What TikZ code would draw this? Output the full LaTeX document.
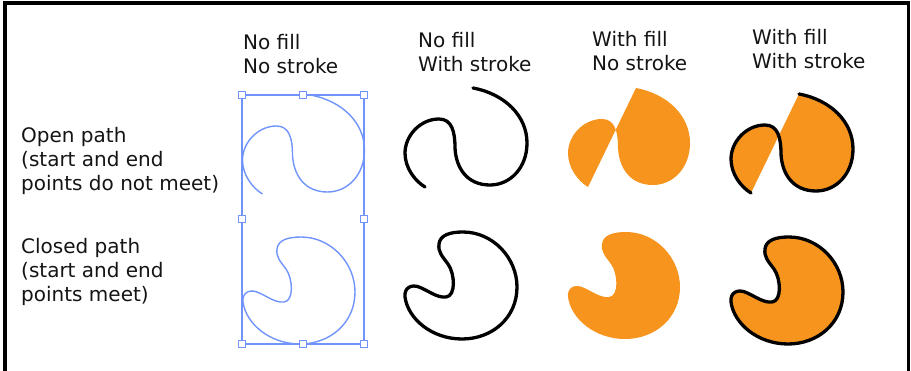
\documentclass[tikz,border=0pt]{standalone}
\usepackage{fontspec}
\setmainfont{DejaVu Sans}
\definecolor{selblue}{RGB}{112,148,252}
\definecolor{aiorange}{RGB}{247,148,30}
\definecolor{txt}{RGB}{20,20,20}
\tikzset{
  lbl/.style={font=\fontsize{20}{24}\selectfont, text=txt, align=left, inner sep=0pt, anchor=base west},
  frameline/.style={draw=black, line width=3.8pt, line join=miter},
  selbox/.style={draw=selblue, line width=1.3pt},
  handle/.style={draw=selblue, fill=white, line width=1.1pt, rectangle, minimum size=6.5pt, inner sep=0pt},
  blueline/.style={draw=selblue, line width=1.4pt},
  blackline/.style={draw=black, line width=3.3pt, line cap=round, line join=round},
  orangefill/.style={fill=aiorange},
}
% open path, local coordinates (pixels, y downwards)
\def\openshape{(68,0) .. controls (100,6) and (122,28) .. (122,55)
  .. controls (122,80) and (105,97) .. (85,97)
  .. controls (62,97) and (51,80) .. (50,60)
  .. controls (50,44) and (47,31) .. (34,31)
  .. controls (15,31) and (0,48) .. (0,65)
  .. controls (0,80) and (10,93) .. (20,99)}
% closed path, local coordinates
\def\closedshape{(35,12) .. controls (36,3) and (46,0) .. (59,0)
  .. controls (89,0) and (113,26) .. (113,55)
  .. controls (113,86) and (88,107) .. (58,107)
  .. controls (28,107) and (4,87) .. (1,65)
  .. controls (0,56) and (7,52) .. (15,55)
  .. controls (25,59) and (33,66) .. (42,65)
  .. controls (52,64) and (51,42) .. (44,32)
  .. controls (38,24) and (34,20) .. (35,12) -- cycle}
\begin{document}
\begin{tikzpicture}[x=1pt, y=-1pt]
\useasboundingbox (0,0) rectangle (911,370);
% frame
\draw[frameline] (4.7,375) |- (908.5,3.3) -- (908.5,375);

% column headers (anchored at the baseline of the last line)
\node[lbl] (h1) at (243,73) {No fill\\No stroke};
\node[lbl] (h2) at (418,71) {No fill\\With stroke};
\node[lbl] (h3) at (592,70) {With fill\\No stroke};
\node[lbl] (h4) at (752,68.5) {With fill\\With stroke};

% row labels
\node[lbl] (r1) at (21,190) {Open path\\(start and end\\points do not meet)};
\node[lbl] (r2) at (21,301) {Closed path\\(start and end\\points meet)};

% column 1: no fill, no stroke (selection view)
\draw[selbox] (242,95) rectangle (364,344);
\begin{scope}[shift={(242.5,95)}]
  \draw[blueline] \openshape;
\end{scope}
\begin{scope}[shift={(242,237)}]
  \draw[blueline] \closedshape;
\end{scope}
\node[handle] (hTL) at (242,95) {};
\node[handle] (hTM) at (303,95) {};
\node[handle] (hTR) at (364,95) {};
\node[handle] (hML) at (242,219) {};
\node[handle] (hMR) at (364,219) {};
\node[handle] (hBL) at (242,344) {};
\node[handle] (hBM) at (303,344) {};
\node[handle] (hBR) at (364,344) {};

% column 2: no fill, with stroke
\begin{scope}[shift={(405,88)}]
  \draw[blackline] \openshape;
\end{scope}
\begin{scope}[shift={(404,232)}]
  \draw[blackline] \closedshape;
\end{scope}

% column 3: with fill, no stroke
\begin{scope}[shift={(568,88)}]
  \fill[orangefill] \openshape -- cycle;
\end{scope}
\begin{scope}[shift={(567,232)}]
  \fill[orangefill] \closedshape;
\end{scope}

% column 4: with fill, with stroke
\begin{scope}[shift={(731,94)}]
  \fill[orangefill] \openshape -- cycle;
  \draw[blackline] \openshape;
\end{scope}
\begin{scope}[shift={(730,237)}]
  \filldraw[orangefill, blackline] \closedshape;
\end{scope}
\end{tikzpicture}
\end{document}
